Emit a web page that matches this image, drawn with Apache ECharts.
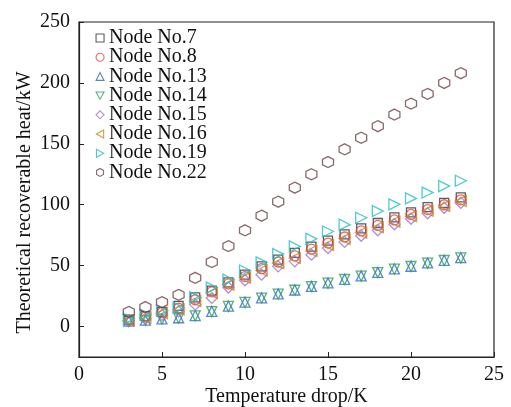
<!DOCTYPE html>
<html><head><meta charset="utf-8">
<script src="https://cdn.jsdelivr.net/npm/echarts@6/dist/echarts.min.js"></script>
<style>html,body{margin:0;padding:0;background:#fff}#c{width:511px;height:407px}</style>
</head><body><div id="c"></div>
<script>
const tempDrop = [3,4,5,6,7,8,9,10,11,12,13,14,15,16,17,18,19,20,21,22,23];
const node7  = [5.7,8.5,12,17,24,29.5,36.3,42.6,49.4,55,60.4,65.6,70.5,75.7,80.6,85,89.6,93.7,98,101.5,106];
const node8  = [5.2,8,11.5,15,22,28.5,35,41,47.5,53,58,63.5,68.5,73.5,78.5,83,87.5,92,96,100,104];
const node13 = [4.5,5.3,6.3,7.2,9,12.5,16.7,20,23.5,26.8,30,33,35.8,38.8,41.6,44.5,47.3,49.5,52.2,54.4,56.5];
const node14 = [4.3,5.1,6.1,7,8.8,12.3,16.5,19.8,23.3,26.6,29.8,32.8,35.6,38.6,41.4,44.3,47.1,49.3,52,54.2,56.3];
const node15 = [4.5,6.5,9.5,12.5,18,23.5,32,38,42.6,49.4,53.5,59,64.5,69.5,74.5,79,84,88.5,93,97.5,101.5];
const node16 = [5,7.3,11,14,21,27.5,34.4,40,46,52,56.3,62,67,72,77,81.5,86,90.5,95,99,103];
const node19 = [6.3,9.8,13,15.5,24,32,38.5,46,52.7,59.5,65.8,72,78,83.6,89.3,94.8,100.3,105.2,110,115.3,119.7];
const node22 = [12,16,20,26,40,53,66,79,91,102.5,114,125,135,145.5,155,164.5,174,183,191,200,208];
const seriesNames = ['Node No.7','Node No.8','Node No.13','Node No.14','Node No.15','Node No.16','Node No.19','Node No.22'];
const yTicks = [0,50,100,150,200,250];

const hex = 'path://M0,-1L0.866,-0.5L0.866,0.5L0,1L-0.866,0.5L-0.866,-0.5Z';
const triDown = 'path://M-1,0L1,0L0,1.8Z';
const triLeft = 'path://M0,1L1.8,0L1.8,2Z';
const triRight = 'path://M0,0L1.8,1L0,2Z';
const styles = [
  {data: node7,  color:'#333333', symbol:'rect', size:9},
  {data: node8,  color:'#e8383d', symbol:'circle', size:10},
  {data: node13, color:'#2a6cc4', symbol:'triangle', size:10},
  {data: node14, color:'#2e9e5b', symbol:triDown, size:10},
  {data: node15, color:'#9b72cf', symbol:'diamond', size:11},
  {data: node16, color:'#c8861e', symbol:triLeft, size:11},
  {data: node19, color:'#22bfc4', symbol:triRight, size:11},
  {data: node22, color:'#6e4448', symbol:hex, size:11}
];
const font = 'Liberation Serif';
const chart = echarts.init(document.getElementById('c'), null, {renderer:'canvas'});
chart.setOption({
  animation:false,
  backgroundColor:'#fff',
  grid:{left:79,right:17,top:22,bottom:50,outerBoundsMode:'none',containLabel:false,show:true,borderColor:'#222',borderWidth:1.2,backgroundColor:'transparent'},
  legend:{
    orient:'vertical', left:95.5, top:28, padding:0, itemGap:-0.8, itemWidth:8, itemHeight:8,
    textStyle:{fontFamily:font,fontSize:20,color:'#111',lineHeight:19},
    data: seriesNames.map((n,i)=>({name:n, icon:styles[i].symbol,
      itemStyle:{color:'rgba(255,255,255,0)',borderColor:styles[i].color,borderWidth:1.1}}))
  },
  xAxis:{
    type:'value', min:0, max:25, interval:5,
    name:'Temperature drop/K', nameLocation:'middle', nameGap:30, nameMoveOverlap:false,
    nameTextStyle:{fontFamily:font,fontSize:20,color:'#111'},
    axisLine:{onZero:false,lineStyle:{color:'#222',width:1.2}},
    axisTick:{inside:true,length:5,lineStyle:{color:'#222'}},
    axisLabel:{fontFamily:font,fontSize:20,color:'#111',margin:8},
    splitLine:{show:false}
  },
  yAxis:{
    type:'value', min:-25, max:250,
    name:'Theoretical recoverable heat/kW', nameLocation:'middle', nameGap:44, nameMoveOverlap:false,
    nameTextStyle:{fontFamily:font,fontSize:20,color:'#111',padding:[0,26,0,0]},
    axisLine:{onZero:false,lineStyle:{color:'#222',width:1.2}},
    axisTick:{inside:true,length:5,lineStyle:{color:'#222'},customValues:yTicks},
    axisLabel:{fontFamily:font,fontSize:20,color:'#111',margin:9,customValues:yTicks},
    splitLine:{show:false}
  },
  series: styles.map((s,i)=>({
    name:seriesNames[i], type:'scatter',
    symbol:s.symbol, symbolSize:s.size,
    itemStyle:{color:'rgba(255,255,255,0)',borderColor:s.color,borderWidth:1.3},
    data: tempDrop.map((x,j)=>[x,s.data[j]])
  }))
});
</script>
</body></html>
